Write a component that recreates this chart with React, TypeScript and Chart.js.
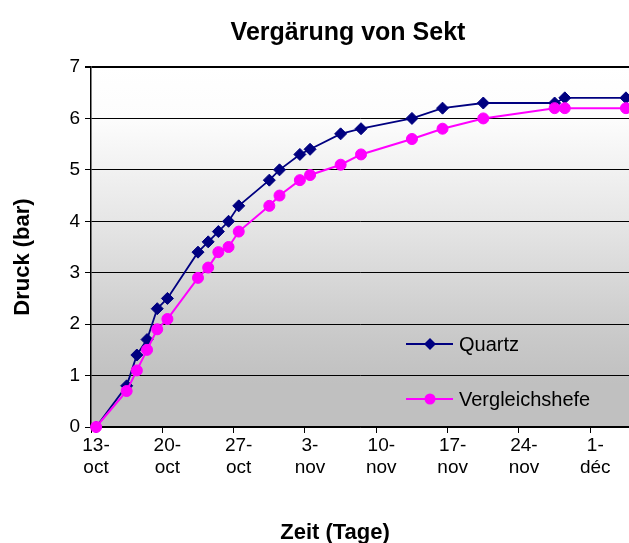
import React, { useEffect, useRef } from 'react';
import { Chart, registerables } from 'chart.js';

Chart.register(...registerables);

// ---- data ----
const chartTitle = 'Vergärung von Sekt';
const xAxisTitle = 'Zeit (Tage)';
const yAxisTitle = 'Druck (bar)';
const seriesNames = ['Quartz', 'Vergleichshefe'];

// days since 13-oct
const dayOffsets = [0, 3, 4, 5, 6, 7, 10, 11, 12, 13, 14, 17, 18, 20, 21, 24, 26, 31, 34, 38, 45, 46, 52];
const quartz = [0, 0.8, 1.4, 1.7, 2.3, 2.5, 3.4, 3.6, 3.8, 4.0, 4.3, 4.8, 5.0, 5.3, 5.4, 5.7, 5.8, 6.0, 6.2, 6.3, 6.3, 6.4, 6.4];
const vergleichshefe = [0, 0.7, 1.1, 1.5, 1.9, 2.1, 2.9, 3.1, 3.4, 3.5, 3.8, 4.3, 4.5, 4.8, 4.9, 5.1, 5.3, 5.6, 5.8, 6.0, 6.2, 6.2, 6.2];

const xTickDays = [0, 7, 14, 21, 28, 35, 42, 49];
const xTickLabels = [
  ['13-', 'oct'],
  ['20-', 'oct'],
  ['27-', 'oct'],
  ['3-', 'nov'],
  ['10-', 'nov'],
  ['17-', 'nov'],
  ['24-', 'nov'],
  ['1-', 'déc'],
];
const xMinDay = -0.5;
const xMaxDay = 52.3;
const yMin = 0;
const yMax = 7;
const yStep = 1;

// ---- styles ----
const FONT = '"Liberation Sans", Arial, Helvetica, sans-serif';
const NAVY = '#000080';
const MAGENTA = '#FF00FF';

const decorPlugin = {
  id: 'decor',
  beforeDraw(chart: any) {
    const { ctx, chartArea: ca, width, height } = chart;
    ctx.save();
    ctx.fillStyle = '#ffffff';
    ctx.fillRect(0, 0, width, height);
    const g = ctx.createLinearGradient(0, ca.top, 0, ca.bottom);
    g.addColorStop(0, '#ffffff');
    g.addColorStop(0.15, '#fcfcfc');
    g.addColorStop(0.45, '#e4e4e4');
    g.addColorStop(0.75, '#c9c9c9');
    g.addColorStop(0.88, '#c0c0c0');
    g.addColorStop(1, '#c0c0c0');
    ctx.fillStyle = g;
    ctx.fillRect(ca.left, ca.top, ca.right - ca.left, ca.bottom - ca.top);
    ctx.restore();
  },
  afterDraw(chart: any) {
    const { ctx, chartArea: ca } = chart;
    ctx.save();
    ctx.fillStyle = '#000';
    // title
    ctx.font = `bold 25px ${FONT}`;
    ctx.textAlign = 'center';
    ctx.textBaseline = 'alphabetic';
    ctx.fillText(chartTitle, 348, 40);
    // x axis title
    ctx.font = `bold 22px ${FONT}`;
    ctx.fillText(xAxisTitle, 335, 539);
    // y axis title
    ctx.save();
    ctx.translate(29, 257);
    ctx.rotate(-Math.PI / 2);
    ctx.fillText(yAxisTitle, 0, 0);
    ctx.restore();

    // legend
    const entries = [
      { ds: chart.data.datasets[1], y: ca.top + 277 },
      { ds: chart.data.datasets[0], y: ca.top + 332 },
    ];
    const x0 = ca.left + 315;
    for (const e of entries) {
      const ds: any = e.ds;
      ctx.strokeStyle = ds.borderColor;
      ctx.lineWidth = ds.borderWidth;
      ctx.beginPath();
      ctx.moveTo(x0, e.y);
      ctx.lineTo(x0 + 47, e.y);
      ctx.stroke();
      ctx.fillStyle = ds.backgroundColor;
      ctx.beginPath();
      const cx = x0 + 24;
      const r = ds.pointRadius;
      if (ds.pointStyle === 'rectRot') {
        ctx.moveTo(cx, e.y - r);
        ctx.lineTo(cx + r, e.y);
        ctx.lineTo(cx, e.y + r);
        ctx.lineTo(cx - r, e.y);
        ctx.closePath();
      } else {
        ctx.arc(cx, e.y, r, 0, Math.PI * 2);
      }
      ctx.fill();
      ctx.fillStyle = '#000';
      ctx.font = `20px ${FONT}`;
      ctx.textAlign = 'left';
      ctx.textBaseline = 'middle';
      ctx.fillText(ds.label, x0 + 53, e.y + 1);
    }
    ctx.restore();
  },
};

export default function App() {
  const ref = useRef<HTMLCanvasElement | null>(null);

  useEffect(() => {
    if (!ref.current) return;
    const chart = new Chart(ref.current, {
      type: 'line',
      data: {
        datasets: [
          {
            label: seriesNames[1],
            data: dayOffsets.map((d, i) => ({ x: d, y: vergleichshefe[i] })),
            borderColor: MAGENTA,
            backgroundColor: MAGENTA,
            borderWidth: 2,
            pointStyle: 'circle',
            pointRadius: 5.5,
            pointBorderWidth: 1,
            pointHoverRadius: 5.5,
            clip: false,
            tension: 0,
          },
          {
            label: seriesNames[0],
            data: dayOffsets.map((d, i) => ({ x: d, y: quartz[i] })),
            borderColor: NAVY,
            backgroundColor: NAVY,
            borderWidth: 1.8,
            pointStyle: 'rectRot',
            pointRadius: 6,
            pointBorderWidth: 1,
            pointHoverRadius: 6,
            clip: false,
            tension: 0,
          },
        ],
      } as any,
      options: {
        animation: false,
        responsive: false,
        events: [],
        layout: { autoPadding: false, padding: { top: 67, left: 0, right: 0, bottom: 0 } },
        plugins: {
          legend: { display: false },
          title: { display: false },
          tooltip: { enabled: false },
        },
        scales: {
          x: {
            type: 'linear',
            min: xMinDay,
            max: xMaxDay,
            afterBuildTicks: (scale: any) => {
              scale.ticks = xTickDays.map((d) => ({ value: d - 0.5 }));
            },
            afterFit: (scale: any) => {
              scale.height = 116;
            },
            ticks: {
              autoSkip: false,
              maxRotation: 0,
              minRotation: 0,
              labelOffset: 5,
              padding: 1,
              color: '#000',
              font: { family: FONT, size: 19, lineHeight: 1.2 },
              callback: (_v: any, i: number) => xTickLabels[i],
            },
            grid: { drawOnChartArea: false, drawTicks: true, tickLength: 6, color: '#000', lineWidth: 1 },
            border: { color: '#000', width: 1.5 },
          },
          y: {
            type: 'linear',
            min: yMin,
            max: yMax,
            afterFit: (scale: any) => {
              scale.width = 91;
            },
            ticks: {
              stepSize: yStep,
              padding: 5,
              color: '#000',
              font: { family: FONT, size: 19 },
            },
            grid: {
              color: '#000',
              lineWidth: (c: any) => (c.tick && c.tick.value === yMax ? 2 : 1),
              tickLength: 6,
              drawTicks: true,
            },
            border: { color: '#000', width: 1.5 },
          },
        },
      } as any,
      plugins: [decorPlugin],
    });
    return () => chart.destroy();
  }, []);

  return (
    <div style={{ position: 'absolute', left: 0, top: 0, width: 629, height: 543, background: '#fff' }}>
      <canvas ref={ref} width={629} height={543} style={{ display: 'block' }} />
    </div>
  );
}
